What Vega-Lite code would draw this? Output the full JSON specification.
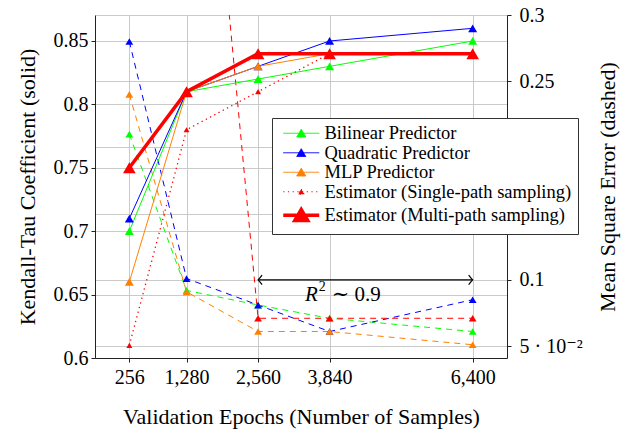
{
  "$schema": "https://vega.github.io/schema/vega-lite/v6.json",
  "width": 412,
  "height": 343,
  "autosize": {"type": "none"},
  "padding": {"left": 95, "top": 15, "right": 117, "bottom": 73},
  "background": "white",
  "config": {
    "view": {"stroke": null},
    "font": "'Liberation Serif', 'DejaVu Serif', serif",
    "axis": {
      "labelFont": "'Liberation Serif', 'DejaVu Serif', serif",
      "labelFontSize": 20,
      "labelColor": "black",
      "titleFont": "'Liberation Serif', 'DejaVu Serif', serif",
      "titleFontSize": 22,
      "titleFontWeight": "normal",
      "titleColor": "black",
      "domainColor": "#222222",
      "domainWidth": 1,
      "tickColor": "#222222",
      "tickSize": 4,
      "gridColor": "#c4c4c4",
      "gridWidth": 0.9
    }
  },
  "datasets": {
    "results": [
      {"epochs": 256, "series": "Bilinear Predictor", "tau": 0.70, "mse": 0.21},
      {"epochs": 1280, "series": "Bilinear Predictor", "tau": 0.81, "mse": 0.092},
      {"epochs": 2560, "series": "Bilinear Predictor", "tau": 0.82, "mse": 0.081},
      {"epochs": 3840, "series": "Bilinear Predictor", "tau": 0.83, "mse": 0.071},
      {"epochs": 6400, "series": "Bilinear Predictor", "tau": 0.85, "mse": 0.061},
      {"epochs": 256, "series": "Quadratic Predictor", "tau": 0.71, "mse": 0.28},
      {"epochs": 1280, "series": "Quadratic Predictor", "tau": 0.81, "mse": 0.101},
      {"epochs": 2560, "series": "Quadratic Predictor", "tau": 0.83, "mse": 0.081},
      {"epochs": 3840, "series": "Quadratic Predictor", "tau": 0.85, "mse": 0.061},
      {"epochs": 6400, "series": "Quadratic Predictor", "tau": 0.86, "mse": 0.085},
      {"epochs": 256, "series": "MLP Predictor", "tau": 0.66, "mse": 0.24},
      {"epochs": 1280, "series": "MLP Predictor", "tau": 0.81, "mse": 0.091},
      {"epochs": 2560, "series": "MLP Predictor", "tau": 0.83, "mse": 0.061},
      {"epochs": 3840, "series": "MLP Predictor", "tau": 0.84, "mse": 0.061},
      {"epochs": 6400, "series": "MLP Predictor", "tau": 0.84, "mse": 0.051},
      {"epochs": 256, "series": "Estimator (Single-path sampling)", "tau": 0.61, "mse": null},
      {"epochs": 1280, "series": "Estimator (Single-path sampling)", "tau": 0.78, "mse": 0.64},
      {"epochs": 2560, "series": "Estimator (Single-path sampling)", "tau": 0.81, "mse": 0.071},
      {"epochs": 3840, "series": "Estimator (Single-path sampling)", "tau": 0.84, "mse": 0.071},
      {"epochs": 6400, "series": "Estimator (Single-path sampling)", "tau": 0.84, "mse": 0.071},
      {"epochs": 256, "series": "Estimator (Multi-path sampling)", "tau": 0.75, "mse": null},
      {"epochs": 1280, "series": "Estimator (Multi-path sampling)", "tau": 0.81, "mse": null},
      {"epochs": 2560, "series": "Estimator (Multi-path sampling)", "tau": 0.84, "mse": null},
      {"epochs": 3840, "series": "Estimator (Multi-path sampling)", "tau": 0.84, "mse": null},
      {"epochs": 6400, "series": "Estimator (Multi-path sampling)", "tau": 0.84, "mse": null}
    ],
    "annotation": [
      {"from": 2560, "to": 6400, "mse": 0.1, "labelEpochs": 3628, "labelMse": 0.0885, "labelR": "R", "labelSup": "2", "labelRest": "∼ 0.9"}
    ]
  },
  "data": {"name": "results"},
  "encoding": {
    "x": {
      "field": "epochs",
      "type": "quantitative",
      "scale": {"domain": [-358.4, 7014.4], "nice": false, "zero": false},
      "axis": {
        "values": [256, 1280, 2560, 3840, 6400],
        "format": ",d",
        "title": "Validation Epochs (Number of Samples)",
        "grid": true,
        "labelPadding": 5,
        "titlePadding": 19
      }
    },
    "color": {
      "field": "series",
      "type": "nominal",
      "scale": {
        "domain": ["Bilinear Predictor", "Quadratic Predictor", "MLP Predictor", "Estimator (Single-path sampling)", "Estimator (Multi-path sampling)"],
        "range": ["#00ff00", "#0000ff", "#ff8000", "#ff0000", "#ff0000"]
      },
      "legend": {
        "orient": "none",
        "legendX": 177,
        "legendY": 103,
        "title": null,
        "fillColor": "white",
        "strokeColor": "#333333",
        "padding": 6,
        "rowPadding": 0.5,
        "symbolOffset": 14,
        "labelOffset": 14,
        "labelFont": "'Liberation Serif', 'DejaVu Serif', serif",
        "labelFontSize": 18.5,
        "labelColor": "black",
        "labelLimit": 400,
        "symbolSize": 100,
        "symbolType": "M-3.6,0L3.6,0M0,-0.8L0.9,0.75L-0.9,0.75Z",
        "encode": {
          "symbols": {
            "update": {
              "shape": {"signal": "datum.value === 'Estimator (Multi-path sampling)' ? 'M-3.6,0L3.6,0M0,-1.15L1.3,1.05L-1.3,1.05Z' : datum.value === 'Estimator (Single-path sampling)' ? 'M-3.6,0L3.6,0M0,-0.55L0.6,0.5L-0.6,0.5Z' : 'M-3.6,0L3.6,0M0,-0.8L0.9,0.75L-0.9,0.75Z'"},
              "strokeWidth": {"signal": "datum.value === 'Estimator (Multi-path sampling)' ? 3.5 : 1"},
              "strokeDash": {"signal": "datum.value === 'Estimator (Single-path sampling)' ? [1.2, 3.5] : [1, 0]"},
              "fill": {"scale": "color", "field": "value"},
              "stroke": {"scale": "color", "field": "value"},
              "opacity": {"value": 1},
              "fillOpacity": {"value": 1},
              "strokeOpacity": {"value": 1},
              "size": {"value": 100}
            }
          }
        }
      }
    }
  },
  "layer": [
    {
      "encoding": {
        "y": {
          "field": "mse",
          "type": "quantitative",
          "scale": {"domain": [0.041, 0.3], "nice": false, "zero": false},
          "axis": {
            "orient": "right",
            "values": [0.05, 0.1, 0.15, 0.2, 0.25, 0.3],
            "labelExpr": "datum.value < 0.07 ? '5 · 10⁻²' : format(datum.value, '.2~f')",
            "title": "Mean Square Error (dashed)",
            "titleAngle": 270,
            "titleBaseline": "top",
            "titlePadding": 15,
            "labelPadding": 8,
            "grid": true
          }
        }
      },
      "layer": [
        {
          "transform": [{"filter": "isValid(datum.mse)"}],
          "mark": {"type": "line", "strokeWidth": 1, "strokeDash": [6, 5], "clip": true}
        },
        {
          "transform": [{"filter": "isValid(datum.mse)"}],
          "mark": {"type": "point", "shape": "triangle-up", "filled": true, "size": 60, "opacity": 1, "clip": true}
        },
        {
          "data": {"name": "annotation"},
          "mark": {"type": "rule", "strokeWidth": 1.2},
          "encoding": {
            "x": {"field": "from", "type": "quantitative"},
            "x2": {"field": "to"},
            "color": {"value": "black"}
          }
        },
        {
          "data": {"name": "annotation"},
          "mark": {"type": "point", "shape": "M-1,-1.2Q-0.3,-0.3 0,0Q-0.3,0.3 -1,1.2", "filled": false, "size": 64, "strokeWidth": 1.2, "opacity": 1, "angle": 0},
          "encoding": {
            "x": {"field": "to", "type": "quantitative"},
            "color": {"value": "black"}
          }
        },
        {
          "data": {"name": "annotation"},
          "mark": {"type": "point", "shape": "M-1,-1.2Q-0.3,-0.3 0,0Q-0.3,0.3 -1,1.2", "filled": false, "size": 64, "strokeWidth": 1.2, "opacity": 1, "angle": 180},
          "encoding": {
            "x": {"field": "from", "type": "quantitative"},
            "color": {"value": "black"}
          }
        },
        {
          "data": {"name": "annotation"},
          "mark": {"type": "text", "font": "'Liberation Serif', 'DejaVu Serif', serif", "fontSize": 21, "fontStyle": "italic", "align": "right", "baseline": "middle"},
          "encoding": {
            "x": {"field": "labelEpochs", "type": "quantitative"},
            "y": {"field": "labelMse", "type": "quantitative"},
            "text": {"field": "labelR"},
            "color": {"value": "black"}
          }
        },
        {
          "data": {"name": "annotation"},
          "mark": {"type": "text", "font": "'Liberation Serif', 'DejaVu Serif', serif", "fontSize": 14, "align": "left", "baseline": "middle", "dx": 1, "dy": -8},
          "encoding": {
            "x": {"field": "labelEpochs", "type": "quantitative"},
            "y": {"field": "labelMse", "type": "quantitative"},
            "text": {"field": "labelSup"},
            "color": {"value": "black"}
          }
        },
        {
          "data": {"name": "annotation"},
          "mark": {"type": "text", "font": "'Liberation Serif', 'DejaVu Serif', serif", "fontSize": 21, "align": "left", "baseline": "middle", "dx": 14},
          "encoding": {
            "x": {"field": "labelEpochs", "type": "quantitative"},
            "y": {"field": "labelMse", "type": "quantitative"},
            "text": {"field": "labelRest"},
            "color": {"value": "black"}
          }
        },
        {
          "data": {"values": [{}]},
          "mark": {"type": "point", "shape": "M-1,-1.2Q-0.3,-0.3 0,0Q-0.3,0.3 -1,1.2", "filled": false, "size": 30, "strokeWidth": 1, "opacity": 1, "angle": -90},
          "encoding": {
            "x": {"datum": 7014.4},
            "y": {"datum": 0.3},
            "color": {"value": "#222222"}
          }
        }
      ]
    },
    {
      "encoding": {
        "y": {
          "field": "tau",
          "type": "quantitative",
          "scale": {"domain": [0.6, 0.8705], "nice": false, "zero": false},
          "axis": {
            "orient": "left",
            "values": [0.6, 0.65, 0.7, 0.75, 0.8, 0.85],
            "format": ".2~f",
            "title": "Kendall-Tau Coefficient (solid)",
            "titlePadding": 14,
            "labelPadding": 3,
            "grid": true
          }
        }
      },
      "layer": [
        {
          "transform": [{"filter": {"field": "series", "oneOf": ["Bilinear Predictor", "Quadratic Predictor", "MLP Predictor"]}}],
          "mark": {"type": "line", "strokeWidth": 1}
        },
        {
          "transform": [{"filter": {"field": "series", "oneOf": ["Bilinear Predictor", "Quadratic Predictor", "MLP Predictor"]}}],
          "mark": {"type": "point", "shape": "triangle-up", "filled": true, "size": 80, "opacity": 1}
        },
        {
          "transform": [{"filter": {"field": "series", "equal": "Estimator (Single-path sampling)"}}],
          "mark": {"type": "line", "strokeWidth": 1.3, "strokeDash": [1.3, 3.5]}
        },
        {
          "transform": [{"filter": {"field": "series", "equal": "Estimator (Single-path sampling)"}}],
          "mark": {"type": "point", "shape": "triangle-up", "filled": true, "size": 36, "opacity": 1}
        },
        {
          "transform": [{"filter": {"field": "series", "equal": "Estimator (Multi-path sampling)"}}],
          "mark": {"type": "line", "strokeWidth": 3.5}
        },
        {
          "transform": [{"filter": {"field": "series", "equal": "Estimator (Multi-path sampling)"}}],
          "mark": {"type": "point", "shape": "triangle-up", "filled": true, "size": 160, "opacity": 1}
        },
        {
          "data": {"values": [{}]},
          "mark": {"type": "point", "shape": "M-1,-1.2Q-0.3,-0.3 0,0Q-0.3,0.3 -1,1.2", "filled": false, "size": 30, "strokeWidth": 1, "opacity": 1, "angle": -90},
          "encoding": {
            "x": {"datum": -358.4},
            "y": {"datum": 0.8705},
            "color": {"value": "#222222"}
          }
        },
        {
          "data": {"values": [{}]},
          "mark": {"type": "point", "shape": "M-1,-1.2Q-0.3,-0.3 0,0Q-0.3,0.3 -1,1.2", "filled": false, "size": 30, "strokeWidth": 1, "opacity": 1, "angle": 0},
          "encoding": {
            "x": {"datum": 7014.4},
            "y": {"datum": 0.6},
            "color": {"value": "#222222"}
          }
        }
      ]
    }
  ],
  "resolve": {"scale": {"y": "independent"}}
}
